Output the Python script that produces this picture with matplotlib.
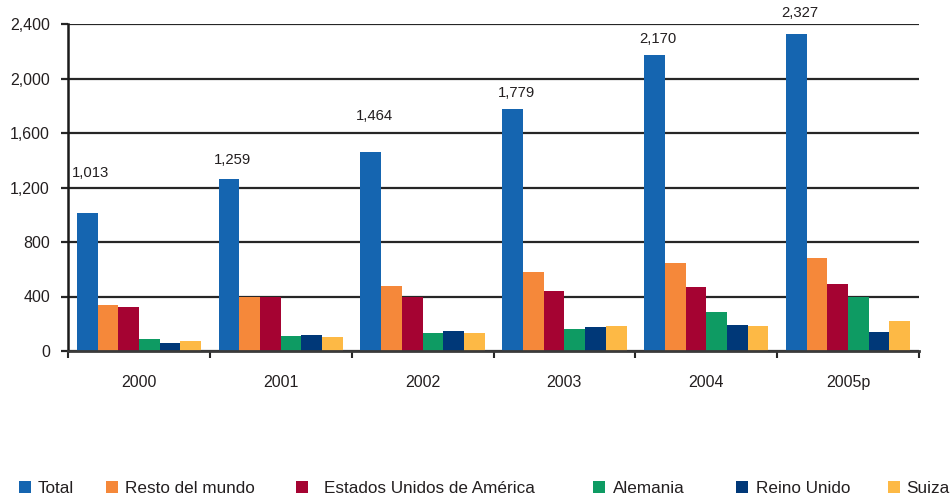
import matplotlib
matplotlib.use("Agg")
import matplotlib.pyplot as plt
from matplotlib.patches import Rectangle
import numpy as np

plt.rcParams['font.family'] = ['Liberation Sans', 'DejaVu Sans']

# Data
years = ["2000", "2001", "2002", "2003", "2004", "2005p"]
series_names = ["Total", "Resto del mundo", "Estados Unidos de América",
                "Alemania", "Reino Unido", "Suiza"]
total = [1013, 1259, 1464, 1779, 2170, 2327]
resto = [335, 395, 475, 581, 646, 682]
eeuu = [320, 395, 395, 443, 472, 494]
alemania = [85, 108, 131, 162, 285, 395]
reino = [62, 115, 146, 177, 192, 138]
suiza = [77, 100, 131, 185, 185, 223]
yticks = [0, 400, 800, 1200, 1600, 2000, 2400]

colors = ["#1565b0", "#f5883a", "#a50332", "#0e9b63", "#003878", "#fdb945"]
text_col = "#231f20"
grid_col = "#262626"

# Label nudges (in points) above the Total bars
label_dy = [29, 14, 25.5, 11.2, 11.5, 14.8]

fig = plt.figure(figsize=(9.5, 4.98), dpi=100)
ax = fig.add_axes([68 / 950, 147 / 498, (919 - 68) / 950, (351 - 24) / 498])

all_series = [total, resto, eeuu, alemania, reino, suiza]
n = len(all_series)
w = 0.146
x = np.arange(len(years)) + 0.5
for j, (vals, c) in enumerate(zip(all_series, colors)):
    ax.bar(x + (j - (n - 1) / 2) * w, vals, width=w, color=c,
           linewidth=0, zorder=3)

# Value labels on Total
for i, v in enumerate(total):
    xb = x[i] + (0 - (n - 1) / 2) * w
    ax.annotate(f"{v:,}", (xb, v), xytext=(2.5, label_dy[i]),
                textcoords="offset points", ha="center", va="center",
                fontsize=10.7, color=text_col)

ax.set_xlim(0, len(years))
ax.set_ylim(0, 2400)
ax.set_yticks(yticks)
ax.set_yticklabels([f"{t:,}" for t in yticks])
ax.yaxis.grid(True, color=grid_col, linewidth=1.6, zorder=1)
ax.set_axisbelow(True)

ax.set_xticks(x)
ax.set_xticklabels(years)
ax.set_xticks(np.arange(len(years) + 1), minor=True)
ax.tick_params(axis="x", which="major", length=0, pad=17,
               labelsize=11.5, labelcolor=text_col)
ax.tick_params(axis="x", which="minor", length=5, width=1.5,
               color=grid_col, direction="out")
ax.tick_params(axis="y", length=5, width=1.6, color=grid_col,
               direction="out", pad=8, labelsize=11.5, labelcolor=text_col)

for s in ["top", "right"]:
    ax.spines[s].set_visible(False)
ax.spines["left"].set_color("#1a1a1a")
ax.spines["left"].set_linewidth(1.8)
ax.spines["bottom"].set_color("#3a3a3a")
ax.spines["bottom"].set_linewidth(2.0)
ax.spines["bottom"].set_zorder(4)

# Legend row along the bottom edge
sq_x = [19, 106, 296, 593, 736, 888]
txt_x = [38, 125, 324, 613, 756, 906]
sq = 12
for name, c, sx, tx in zip(series_names, colors, sq_x, txt_x):
    fig.patches.append(Rectangle((sx / 950, (498 - 493) / 498), sq / 950, sq / 498,
                                 transform=fig.transFigure, facecolor=c,
                                 edgecolor="none"))
    fig.text(tx / 950, (498 - 488) / 498, name, ha="left", va="center",
             fontsize=12.3, color=text_col)

fig.savefig("out.png", dpi=100)
